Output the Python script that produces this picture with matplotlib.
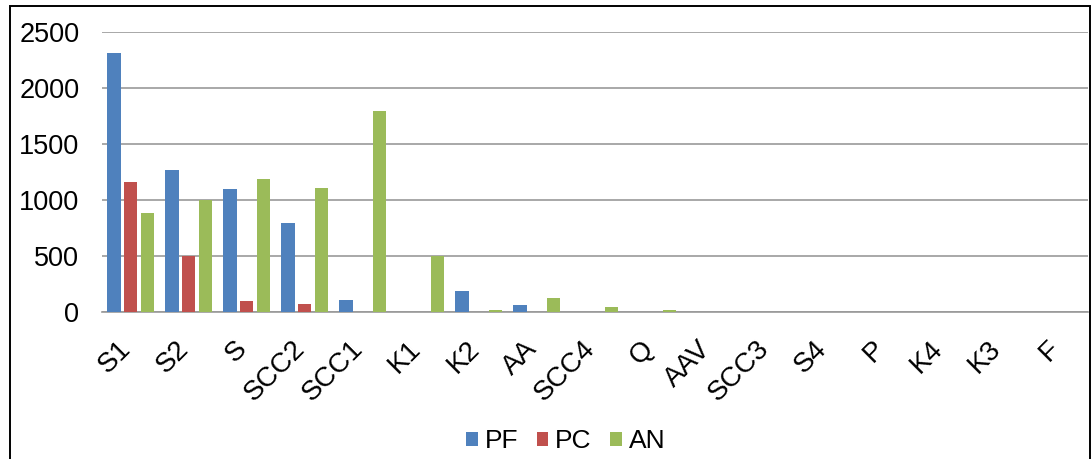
import matplotlib.pyplot as plt
from matplotlib.patches import Rectangle
import matplotlib.transforms as mtransforms
import numpy as np

plt.rcParams['font.family'] = ['Liberation Sans', 'DejaVu Sans']

# categories and values
categories = ['S1', 'S2', 'S', 'SCC2', 'SCC1', 'K1', 'K2', 'AA', 'SCC4', 'Q',
              'AAV', 'SCC3', 'S4', 'P', 'K4', 'K3', 'F']
pf = [2310, 1270, 1100, 795, 110, 5, 185, 60, 2, 4, 3, 2, 1, 0, 0, 0, 0]
pc = [1160, 505, 95, 70, 2, 0, 0, 0, 0, 0, 0, 0, 0, 0, 0, 0, 0]
an = [885, 1000, 1190, 1105, 1800, 500, 15, 125, 42, 15, 4, 3, 3, 1, 1, 0, 0]

series = [('PF', pf, '#4f81bd'), ('PC', pc, '#c0504d'), ('AN', an, '#9bbb59')]

fig = plt.figure(figsize=(10.92, 4.59), dpi=100)
ax = fig.add_axes([0.093, 0.32, 0.903, 0.61])

x = np.arange(len(categories))
w = 0.235
step = 0.29
for i, (name, vals, col) in enumerate(series):
    ax.bar(x + (i - 1) * step, vals, width=w, color=col, label=name, zorder=3)

ax.set_ylim(0, 2500)
ax.set_xlim(-0.5, len(categories) - 0.5)
ax.set_yticks(range(0, 2501, 500))
ax.tick_params(axis='y', labelsize=19.5, length=0, pad=16)
ax.tick_params(axis='x', labelsize=20, length=0, pad=12)
ax.set_xticks(x)
ax.set_xticklabels(categories, rotation=45, ha='right', rotation_mode='anchor')
# nudge the rotated labels a bit left and down
shift = mtransforms.ScaledTranslation(-9 / 72, -5 / 72, fig.dpi_scale_trans)
for lbl in ax.get_xticklabels():
    lbl.set_transform(lbl.get_transform() + shift)
ax.grid(axis='y', color='#999999', linewidth=1.2, zorder=0)
for s in ['top', 'right', 'left']:
    ax.spines[s].set_visible(False)
ax.spines['bottom'].set_color('#999999')
ax.spines['bottom'].set_linewidth(1.2)

fig.legend(loc='center', bbox_to_anchor=(0.518, 0.039), ncol=3, frameon=False,
           fontsize=19, handlelength=0.45, handleheight=0.45, handletextpad=0.25,
           columnspacing=0.7, borderpad=0)

fig.patches.append(Rectangle((0.009, -0.05), 0.989, 1.037, transform=fig.transFigure,
                             fill=False, edgecolor='black', linewidth=1.4))

fig.savefig('out.png', dpi=100)
